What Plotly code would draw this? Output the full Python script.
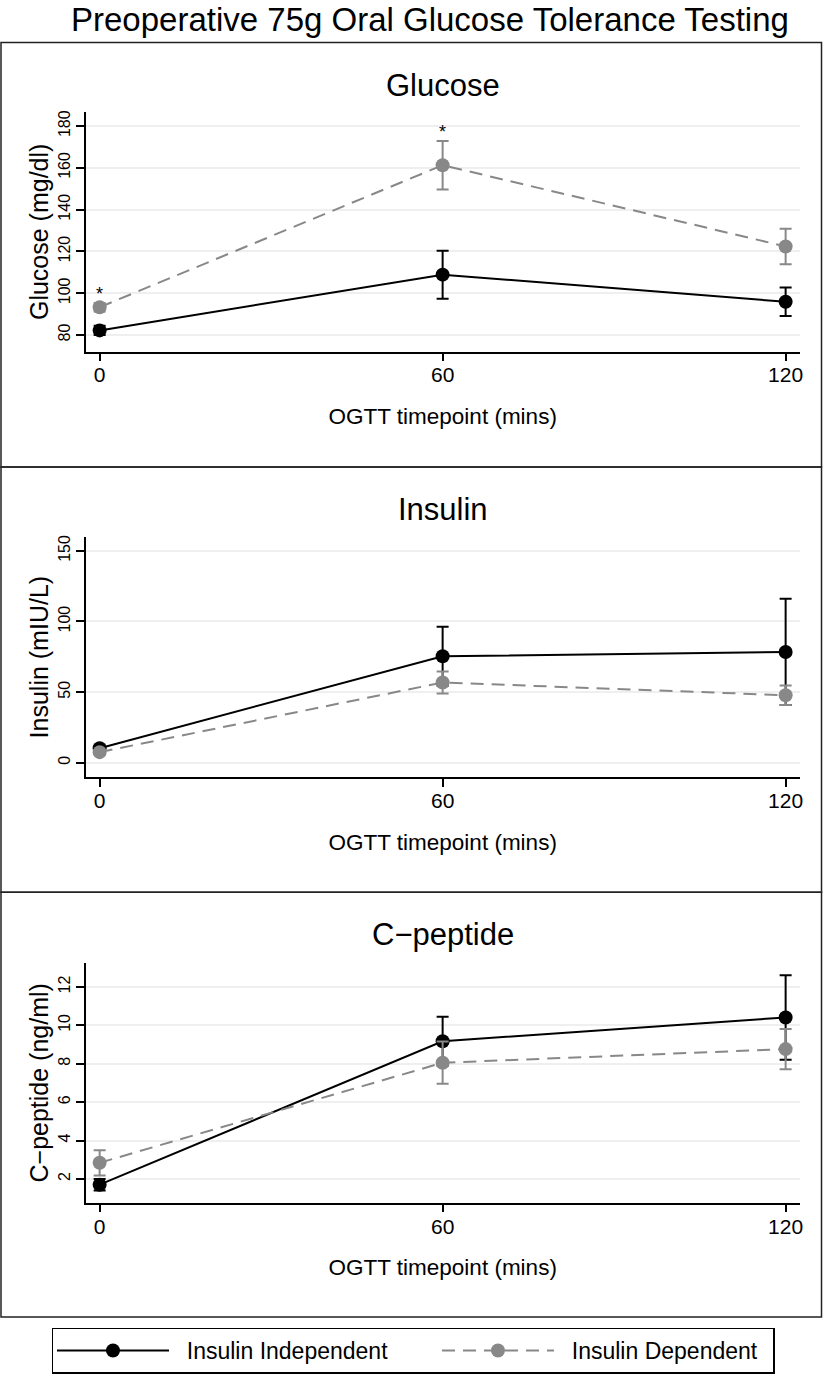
import plotly.graph_objects as go

timepoints = [0, 60, 120]

glucose_indep = [82.2, 108.9, 95.9]
glucose_indep_err = [2.2, 11.5, 6.8]
glucose_dep = [93.3, 161.3, 122.4]
glucose_dep_err = [2.0, 11.6, 8.5]
glucose_sig = [0, 60]

insulin_indep = [10.3, 75.4, 78.4]
insulin_indep_err = [2.0, 20.9, 37.6]
insulin_dep = [7.5, 56.8, 47.8]
insulin_dep_err = [1.5, 7.8, 6.9]

cpep_indep = [1.7, 9.17, 10.41]
cpep_indep_err = [0.3, 1.28, 2.2]
cpep_dep = [2.84, 8.05, 8.76]
cpep_dep_err = [0.66, 1.1, 1.05]

panel_titles = ["Glucose", "Insulin", "C\u2212peptide"]
y_titles = ["Glucose (mg/dl)", "Insulin (mIU/L)", "C\u2212peptide (ng/ml)"]
y_ticks = [[80, 100, 120, 140, 160, 180], [0, 50, 100, 150], [2, 4, 6, 8, 10, 12]]
y_ranges = [[72.1, 186.7], [-10.1, 159.6], [0.77, 13.24]]
x_title = "OGTT timepoint (mins)"
group_names = ["Insulin Independent", "Insulin Dependent"]

FONT = "Liberation Sans, Arial, sans-serif"
W, H = 827, 1374
BLACK = "#000000"
GRAY = "#888888"


def py(v):
    return 1 - v / H


def px(v):
    return v / W


panels = [
    (glucose_indep, glucose_indep_err, glucose_dep, glucose_dep_err),
    (insulin_indep, insulin_indep_err, insulin_dep, insulin_dep_err),
    (cpep_indep, cpep_indep_err, cpep_dep, cpep_dep_err),
]
# plot-area top/bottom in pixels, and panel box edges in pixels
plot_px = [(110.7, 351.3), (538, 779), (966, 1206.7)]
box_px = [40.7, 467.5, 894.7, 1321.7]

fig = go.Figure()

for i, (ind, ind_err, dep, dep_err) in enumerate(panels):
    n = "" if i == 0 else str(i + 1)
    styles = [
        (ind, ind_err, BLACK, "solid", group_names[0], 258),
        (dep, dep_err, GRAY, "13px,8px", group_names[1], 209),
    ]
    for vals, errs, col, dash, name, lw in styles:
        fig.add_trace(go.Scatter(
            x=timepoints, y=vals,
            xaxis="x" + n, yaxis="y" + n,
            mode="lines+markers",
            name="\u00a0\u00a0" + name,
            legendgroup=name,
            legendwidth=lw,
            showlegend=(i == 0),
            line=dict(color=col, width=2, dash=dash),
            marker=dict(color=col, size=14),
            error_y=dict(type="data", array=errs, visible=True,
                         color=col, thickness=2, width=6),
        ))

    top, bot = plot_px[i]
    fig.update_layout(**{
        "xaxis" + n: dict(
            domain=[px(86), px(802.6)], range=[-2.44, 122.46],
            anchor="y" + n, tickvals=timepoints,
            showline=True, linecolor=BLACK, linewidth=1.5,
            ticks="outside", ticklen=8, tickwidth=1.5, tickcolor=BLACK,
            ticklabelstandoff=-4,
            showgrid=False, zeroline=False,
            tickfont=dict(family=FONT, size=21, color=BLACK),
            title=dict(text=x_title, standoff=23,
                       font=dict(family=FONT, size=22.5, color=BLACK)),
        ),
        "yaxis" + n: dict(
            domain=[py(bot), py(top)], range=y_ranges[i],
            anchor="x" + n, tickvals=y_ticks[i], tickangle=-90,
            showline=True, linecolor=BLACK, linewidth=1.5,
            ticks="outside", ticklen=8, tickwidth=1.5, tickcolor=BLACK,
            showgrid=True, gridcolor="#efefef", gridwidth=1.5,
            zeroline=False,
            tickfont=dict(family=FONT, size=16, color=BLACK),
            title=dict(text=y_titles[i], standoff=0,
                       font=dict(family=FONT, size=25, color=BLACK)),
        ),
    })

    fig.add_annotation(
        text=panel_titles[i], xref="paper", yref="paper",
        x=px(444.3), y=py(box_px[i] + 43), xanchor="center", yanchor="middle",
        showarrow=False, font=dict(family=FONT, size=31, color=BLACK),
    )
    fig.add_shape(
        type="rect", xref="paper", yref="paper",
        x0=px(1), x1=px(824.5), y0=py(box_px[i + 1]), y1=py(box_px[i]),
        line=dict(color="#222222", width=1.5),
    )

for t in glucose_sig:
    k = timepoints.index(t)
    fig.add_annotation(
        text="*", x=t, y=glucose_dep[k] + glucose_dep_err[k],
        xref="x", yref="y", xanchor="center", yanchor="bottom", yshift=-3,
        showarrow=False, font=dict(family=FONT, size=18, color=BLACK),
    )

fig.add_annotation(
    text="Preoperative 75g Oral Glucose Tolerance Testing",
    xref="paper", yref="paper", x=px(431.5), y=py(18),
    xanchor="center", yanchor="middle", showarrow=False,
    font=dict(family=FONT, size=33, color=BLACK),
)

fig.update_layout(
    width=W, height=H,
    margin=dict(l=0, r=0, t=0, b=0),
    paper_bgcolor="white", plot_bgcolor="white",
    font=dict(family=FONT, color=BLACK),
    legend=dict(
        orientation="h", x=px(415), y=py(1332.3),
        xanchor="center", yanchor="top",
        bordercolor=BLACK, borderwidth=1.5, bgcolor="white",
        itemwidth=112,
        font=dict(family=FONT, size=23, color=BLACK),
    ),
)

fig.write_html(
    "out.html",
    config={"displayModeBar": False},
    post_script="document.body.style.margin='0px';",
)
